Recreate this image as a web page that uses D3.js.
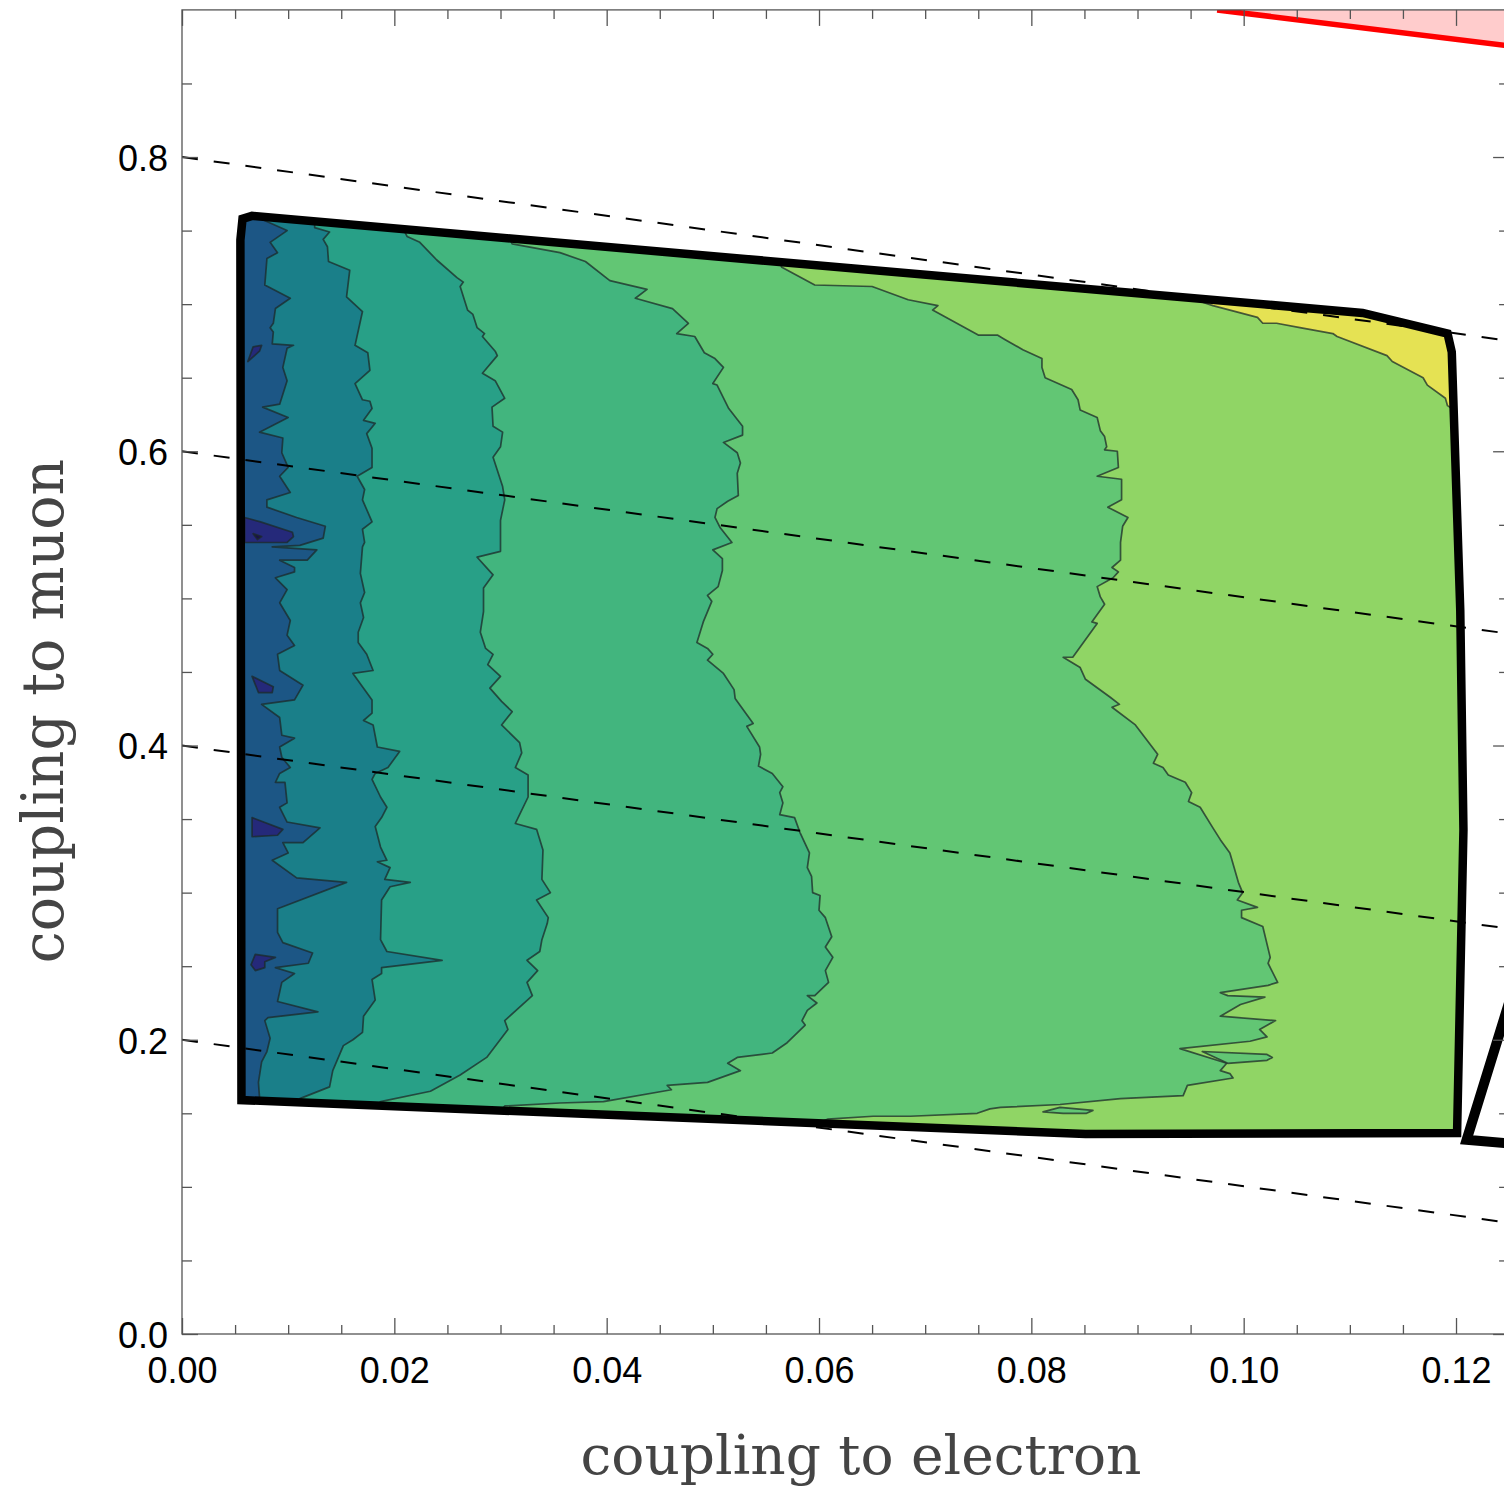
<!DOCTYPE html>
<html><head><meta charset="utf-8">
<script src="https://cdnjs.cloudflare.com/ajax/libs/d3/7.8.5/d3.min.js"></script>
<style>body{margin:0;background:#fff;} svg{display:block;}</style>
</head><body>
<svg id="chart" width="1504" height="1493"></svg>
<script>
// ---------- data ----------
const xTicksMajor = [0, 0.02, 0.04, 0.06, 0.08, 0.10, 0.12];
const xTickLabels = ["0.00", "0.02", "0.04", "0.06", "0.08", "0.10", "0.12"];
const xTicksMinor = [0.005,0.01,0.015,0.025,0.03,0.035,0.045,0.05,0.055,0.065,0.07,0.075,0.085,0.09,0.095,0.105,0.11,0.115];
const yTicksMajor = [0, 0.2, 0.4, 0.6, 0.8];
const yTickLabels = ["0.0", "0.2", "0.4", "0.6", "0.8"];
const yTicksMinor = [0.05,0.1,0.15,0.25,0.3,0.35,0.45,0.5,0.55,0.65,0.7,0.75,0.85];
const xTitle = "coupling to electron";
const yTitle = "coupling to muon";

// allowed region outline (coupling to electron, coupling to muon)
const boundary = [[0.0056,0.159],[0.0055,0.7436],[0.0057,0.758],[0.0066,0.760],[0.1112,0.694],[0.1192,0.680],[0.1196,0.6675],[0.1204,0.492],[0.1207,0.3426],[0.1201,0.1366],[0.0851,0.1359]];

// contour levels, left to right (each line runs from top edge to bottom edge)
const contourA = [[0.0074,0.758],[0.0099,0.750],[0.0083,0.742],[0.0090,0.735],[0.0080,0.731],[0.0078,0.713],[0.0102,0.704],[0.0088,0.697],[0.0086,0.687],[0.0083,0.684],[0.0086,0.681],[0.0085,0.673],[0.0105,0.672],[0.0099,0.670],[0.0095,0.657],[0.0099,0.648],[0.0092,0.632],[0.0076,0.630],[0.0100,0.623],[0.0073,0.613],[0.0095,0.609],[0.0094,0.599],[0.0100,0.589],[0.0092,0.583],[0.0102,0.572],[0.0080,0.567],[0.0080,0.562],[0.0108,0.555],[0.0135,0.549],[0.0133,0.541],[0.0111,0.536],[0.0085,0.535],[0.0127,0.533],[0.0118,0.526],[0.0092,0.526],[0.0106,0.521],[0.0106,0.518],[0.0088,0.514],[0.0099,0.506],[0.0092,0.497],[0.0102,0.485],[0.0099,0.475],[0.0106,0.468],[0.0090,0.462],[0.0092,0.451],[0.0114,0.441],[0.0106,0.431],[0.0075,0.428],[0.0092,0.419],[0.0094,0.407],[0.0106,0.405],[0.0092,0.399],[0.0094,0.392],[0.0102,0.385],[0.0092,0.381],[0.0088,0.375],[0.0097,0.375],[0.0099,0.361],[0.0092,0.358],[0.0099,0.348],[0.0130,0.344],[0.0114,0.334],[0.0095,0.334],[0.0100,0.327],[0.0085,0.322],[0.0108,0.310],[0.0155,0.307],[0.0090,0.289],[0.0090,0.281],[0.0090,0.273],[0.0095,0.266],[0.0123,0.259],[0.0119,0.252],[0.0088,0.249],[0.0106,0.245],[0.0094,0.239],[0.0090,0.226],[0.0128,0.219],[0.0081,0.215],[0.0078,0.213],[0.0083,0.201],[0.0080,0.192],[0.0075,0.185],[0.0072,0.171],[0.0073,0.161],[0.0073,0.150]];
const contourB = [[0.0125,0.752],[0.0139,0.749],[0.0133,0.744],[0.0137,0.739],[0.0138,0.729],[0.0158,0.723],[0.0155,0.705],[0.0170,0.695],[0.0163,0.672],[0.0175,0.667],[0.0177,0.655],[0.0163,0.646],[0.0170,0.635],[0.0177,0.634],[0.0179,0.629],[0.0171,0.621],[0.0182,0.619],[0.0174,0.612],[0.0179,0.602],[0.0179,0.589],[0.0165,0.583],[0.0172,0.574],[0.0170,0.567],[0.0179,0.552],[0.0170,0.547],[0.0172,0.538],[0.0170,0.535],[0.0168,0.517],[0.0172,0.504],[0.0168,0.497],[0.0171,0.487],[0.0166,0.477],[0.0166,0.470],[0.0174,0.462],[0.0180,0.451],[0.0161,0.449],[0.0179,0.431],[0.0179,0.422],[0.0171,0.417],[0.0180,0.414],[0.0184,0.399],[0.0205,0.396],[0.0194,0.385],[0.0182,0.381],[0.0179,0.377],[0.0187,0.365],[0.0193,0.358],[0.0188,0.351],[0.0182,0.345],[0.0187,0.331],[0.0193,0.322],[0.0184,0.321],[0.0196,0.317],[0.0191,0.309],[0.0215,0.307],[0.0196,0.304],[0.0188,0.295],[0.0187,0.268],[0.0193,0.260],[0.0245,0.254],[0.0188,0.249],[0.0188,0.245],[0.0179,0.241],[0.0182,0.227],[0.0171,0.216],[0.0170,0.205],[0.0161,0.200],[0.0152,0.196],[0.0142,0.179],[0.0139,0.168],[0.0111,0.160],[0.0102,0.150]];
const contourC = [[0.0205,0.756],[0.0212,0.746],[0.0224,0.742],[0.0240,0.730],[0.0259,0.718],[0.0265,0.715],[0.0262,0.712],[0.0269,0.696],[0.0274,0.693],[0.0278,0.684],[0.0285,0.680],[0.0283,0.678],[0.0295,0.668],[0.0297,0.665],[0.0283,0.653],[0.0295,0.648],[0.0304,0.636],[0.0292,0.630],[0.0293,0.617],[0.0302,0.613],[0.0300,0.603],[0.0293,0.596],[0.0302,0.576],[0.0304,0.567],[0.0300,0.553],[0.0300,0.532],[0.0278,0.528],[0.0293,0.516],[0.0284,0.507],[0.0284,0.491],[0.0281,0.477],[0.0286,0.466],[0.0293,0.462],[0.0288,0.455],[0.0300,0.447],[0.0290,0.439],[0.0301,0.430],[0.0311,0.423],[0.0301,0.414],[0.0318,0.402],[0.0320,0.395],[0.0314,0.385],[0.0326,0.380],[0.0326,0.365],[0.0314,0.347],[0.0334,0.343],[0.0340,0.329],[0.0339,0.309],[0.0347,0.300],[0.0334,0.295],[0.0345,0.283],[0.0344,0.279],[0.0339,0.268],[0.0337,0.260],[0.0325,0.254],[0.0335,0.247],[0.0325,0.239],[0.0330,0.230],[0.0304,0.213],[0.0307,0.207],[0.0287,0.188],[0.0262,0.176],[0.0234,0.165],[0.0187,0.158],[0.0177,0.149]];
const contourD = [[0.0304,0.752],[0.0311,0.741],[0.0356,0.735],[0.0380,0.729],[0.0403,0.716],[0.0438,0.710],[0.0427,0.704],[0.0462,0.697],[0.0477,0.687],[0.0466,0.680],[0.0483,0.678],[0.0492,0.667],[0.0502,0.663],[0.0510,0.657],[0.0500,0.646],[0.0504,0.645],[0.0515,0.629],[0.0528,0.617],[0.0528,0.611],[0.0510,0.606],[0.0523,0.599],[0.0526,0.592],[0.0523,0.585],[0.0524,0.570],[0.0514,0.566],[0.0504,0.561],[0.0502,0.555],[0.0507,0.548],[0.0518,0.538],[0.0500,0.533],[0.0509,0.527],[0.0509,0.519],[0.0505,0.508],[0.0495,0.502],[0.0499,0.498],[0.0491,0.484],[0.0485,0.470],[0.0495,0.466],[0.0500,0.462],[0.0495,0.458],[0.0510,0.449],[0.0520,0.438],[0.0521,0.432],[0.0538,0.415],[0.0532,0.413],[0.0544,0.399],[0.0545,0.394],[0.0543,0.386],[0.0556,0.381],[0.0566,0.372],[0.0563,0.368],[0.0566,0.361],[0.0563,0.353],[0.0577,0.351],[0.0582,0.341],[0.0591,0.327],[0.0589,0.317],[0.0593,0.311],[0.0594,0.300],[0.0601,0.298],[0.0600,0.288],[0.0606,0.283],[0.0612,0.270],[0.0606,0.263],[0.0613,0.256],[0.0606,0.247],[0.0609,0.239],[0.0596,0.230],[0.0589,0.230],[0.0598,0.225],[0.0589,0.220],[0.0584,0.213],[0.0587,0.210],[0.0570,0.198],[0.0556,0.191],[0.0523,0.188],[0.0514,0.184],[0.0526,0.179],[0.0495,0.171],[0.0457,0.169],[0.0461,0.166],[0.0397,0.158],[0.0356,0.157],[0.0304,0.155],[0.0295,0.147]];
const contourE = [[0.0560,0.733],[0.0565,0.725],[0.0596,0.713],[0.0650,0.712],[0.0684,0.703],[0.0712,0.699],[0.0707,0.696],[0.0750,0.679],[0.0768,0.679],[0.0775,0.676],[0.0792,0.669],[0.0810,0.663],[0.0810,0.657],[0.0813,0.650],[0.0838,0.642],[0.0844,0.635],[0.0846,0.628],[0.0862,0.623],[0.0865,0.614],[0.0869,0.610],[0.0871,0.603],[0.0869,0.601],[0.0881,0.600],[0.0882,0.589],[0.0862,0.583],[0.0885,0.581],[0.0885,0.567],[0.0872,0.562],[0.0891,0.555],[0.0886,0.549],[0.0884,0.538],[0.0884,0.526],[0.0876,0.521],[0.0882,0.518],[0.0877,0.514],[0.0862,0.508],[0.0865,0.501],[0.0869,0.496],[0.0857,0.484],[0.0862,0.483],[0.0839,0.460],[0.0830,0.460],[0.0846,0.453],[0.0851,0.445],[0.0874,0.433],[0.0883,0.428],[0.0876,0.426],[0.0898,0.414],[0.0919,0.394],[0.0915,0.388],[0.0924,0.385],[0.0929,0.380],[0.0945,0.375],[0.0951,0.368],[0.0948,0.362],[0.0959,0.358],[0.0971,0.344],[0.0978,0.336],[0.0987,0.327],[0.0989,0.322],[0.0995,0.307],[0.0999,0.300],[0.0994,0.295],[0.1013,0.290],[0.0998,0.288],[0.0998,0.283],[0.1018,0.277],[0.1025,0.256],[0.1023,0.252],[0.1032,0.239],[0.1023,0.237],[0.0978,0.232],[0.0985,0.230],[0.1020,0.229],[0.0997,0.224],[0.0978,0.216],[0.1030,0.213],[0.1015,0.207],[0.1022,0.202],[0.1006,0.199],[0.0940,0.194],[0.0984,0.184],[0.0978,0.179],[0.0987,0.177],[0.0990,0.174],[0.0947,0.169],[0.0943,0.162],[0.0884,0.160],[0.0827,0.156],[0.0771,0.154],[0.0761,0.153],[0.0749,0.150],[0.0686,0.148],[0.0651,0.148],[0.0608,0.146],[0.0582,0.139]];
// highest level (top-right corner), runs from top edge to right edge
const contourF = [[0.0926,0.710],[0.0971,0.699],[0.1013,0.691],[0.1018,0.687],[0.1031,0.687],[0.1053,0.684],[0.1084,0.680],[0.1088,0.678],[0.1135,0.665],[0.1140,0.661],[0.1169,0.650],[0.1173,0.645],[0.1190,0.636],[0.1192,0.631],[0.1213,0.621]];

// small closed pockets
const lowIslands = [
  [[0.0067,0.671],[0.0075,0.672],[0.0073,0.668],[0.0062,0.661]],
  [[0.0059,0.555],[0.0074,0.552],[0.0104,0.545],[0.0105,0.542],[0.0099,0.538],[0.0059,0.538]],
  [[0.0066,0.447],[0.0086,0.440],[0.0085,0.436],[0.0072,0.436]],
  [[0.0066,0.351],[0.0095,0.343],[0.0090,0.339],[0.0066,0.338]],
  [[0.0069,0.258],[0.0088,0.256],[0.0078,0.253],[0.0078,0.249],[0.0069,0.247],[0.0065,0.251]]
];
const lowestIslands = [[[0.0067,0.544],[0.0075,0.542],[0.0071,0.540]]];
const midIslands = [
  [[0.0961,0.192],[0.1022,0.190],[0.1027,0.188],[0.1022,0.186],[0.0985,0.184]],
  [[0.0811,0.151],[0.0827,0.154],[0.0858,0.152],[0.0852,0.150],[0.0830,0.150]]
];

// reference lines
const dashLines = [
  [[0, 0.8], [0.1245, 0.6756]],
  [[0, 0.6], [0.1245, 0.4765]],
  [[0, 0.4], [0.1245, 0.276]],
  [[0, 0.2], [0.1245, 0.0761]]
];
const redLine = [[0.0975, 0.9], [0.125, 0.8756]];
const triangle = [[0.1210, 0.132], [0.1279, 0.293], [0.1336, 0.124]];

// band colours (low -> high)
const bandColors = ["#1a0e4f", "#25297a", "#1c5685", "#1a7f89", "#28a087", "#42b57e", "#62c674", "#90d565", "#e5e253"];

// ---------- drawing ----------
const svg = d3.select("#chart");
const x = d3.scaleLinear().domain([0, 0.125]).range([182, 1509.1]);
const y = d3.scaleLinear().domain([0, 0.9]).range([1334, 9.9]);
const line = d3.line().x(d => x(d[0])).y(d => y(d[1]));
const closed = d3.line().x(d => x(d[0])).y(d => y(d[1])).curve(d3.curveLinearClosed);
const yMax = 0.9;

const defs = svg.append("defs");
defs.append("clipPath").attr("id", "plotClip").append("rect")
  .attr("x", x(0)).attr("y", y(yMax)).attr("width", x(0.125) - x(0)).attr("height", y(0) - y(yMax));
defs.append("clipPath").attr("id", "regionClip").append("path").attr("d", closed(boundary));

const plot = svg.append("g").attr("clip-path", "url(#plotClip)");

// excluded red region at top right
plot.append("path").attr("d", closed([redLine[0], redLine[1], [0.125, yMax]])).attr("fill", "#ffcccc");
plot.append("path").attr("d", line(redLine)).attr("fill", "none").attr("stroke", "#ff0000").attr("stroke-width", 5.5);

// contour bands
const reg = plot.append("g").attr("clip-path", "url(#regionClip)");
const cStroke = "rgba(28,42,40,0.75)";
reg.append("path").attr("d", closed(boundary)).attr("fill", bandColors[7]);
function leftBand(c) {
  const a = c[0], b = c[c.length - 1];
  return [[a[0], yMax], ...c, [b[0], 0], [0, 0], [0, yMax]];
}
function poly(pts, color) {
  reg.append("path").attr("d", closed(pts)).attr("fill", color)
    .attr("stroke", cStroke).attr("stroke-width", 1.7).attr("stroke-linejoin", "round");
}
poly(leftBand(contourE), bandColors[6]);
midIslands.forEach(p => poly(p, bandColors[6]));
poly(leftBand(contourD), bandColors[5]);
poly(leftBand(contourC), bandColors[4]);
poly(leftBand(contourB), bandColors[3]);
poly(leftBand(contourA), bandColors[2]);
lowIslands.forEach(p => poly(p, bandColors[1]));
lowestIslands.forEach(p => poly(p, bandColors[0]));
{
  const a = contourF[0], b = contourF[contourF.length - 1];
  poly([[a[0], yMax], ...contourF, [0.125, b[1]], [0.125, yMax]], bandColors[8]);
}

// region outline
plot.append("path").attr("d", closed(boundary)).attr("fill", "none")
  .attr("stroke", "#000").attr("stroke-width", 8.5).attr("stroke-linejoin", "miter");
// triangle outline at right
plot.append("path").attr("d", closed(triangle)).attr("fill", "#fff")
  .attr("stroke", "#000").attr("stroke-width", 10).attr("stroke-linejoin", "miter");

// dashed reference lines
dashLines.forEach(l => {
  plot.append("path").attr("d", line(l)).attr("fill", "none")
    .attr("stroke", "#000").attr("stroke-width", 2).attr("stroke-dasharray", "16,16");
});

// ---------- axes / frame ----------
const tickColor = "#555";
function styleAxis(g) {
  g.select(".domain").remove();
  g.selectAll(".tick line").attr("stroke", tickColor).attr("stroke-width", 1.3);
  g.selectAll("text").attr("fill", "#000");
  g.attr("font-family", "'Liberation Sans', Arial, Helvetica, sans-serif").attr("font-size", 36);
}
const fmtX = d => xTickLabels[xTicksMajor.indexOf(d)];
const fmtY = d => yTickLabels[yTicksMajor.indexOf(d)];

svg.append("g").attr("transform", `translate(0,${y(0)})`)
  .call(d3.axisBottom(x).tickValues(xTicksMajor).tickFormat(fmtX).tickSize(-16).tickPadding(23)).call(styleAxis);
svg.append("g").attr("transform", `translate(0,${y(0)})`)
  .call(d3.axisBottom(x).tickValues(xTicksMinor).tickFormat("").tickSize(-9)).call(styleAxis);
svg.append("g").attr("transform", `translate(0,${y(yMax)})`)
  .call(d3.axisTop(x).tickValues(xTicksMajor).tickFormat("").tickSize(-16)).call(styleAxis);
svg.append("g").attr("transform", `translate(0,${y(yMax)})`)
  .call(d3.axisTop(x).tickValues(xTicksMinor).tickFormat("").tickSize(-9)).call(styleAxis);

const gl = svg.append("g").attr("transform", `translate(${x(0)},0)`)
  .call(d3.axisLeft(y).tickValues(yTicksMajor).tickFormat(fmtY).tickSize(-16).tickPadding(14)).call(styleAxis);
gl.selectAll("text").attr("dy", "0.37em");
svg.append("g").attr("transform", `translate(${x(0)},0)`)
  .call(d3.axisLeft(y).tickValues(yTicksMinor).tickFormat("").tickSize(-10)).call(styleAxis);
svg.append("g").attr("transform", `translate(${x(0.125)},0)`)
  .call(d3.axisRight(y).tickValues(yTicksMajor).tickFormat("").tickSize(-16)).call(styleAxis);
svg.append("g").attr("transform", `translate(${x(0.125)},0)`)
  .call(d3.axisRight(y).tickValues(yTicksMinor).tickFormat("").tickSize(-10)).call(styleAxis);

svg.append("rect").attr("x", x(0)).attr("y", y(yMax)).attr("width", x(0.125) - x(0)).attr("height", y(0) - y(yMax))
  .attr("fill", "none").attr("stroke", tickColor).attr("stroke-width", 1.3);

// titles
svg.append("text").attr("x", 861).attr("y", 1474).attr("text-anchor", "middle")
  .attr("font-family", "'DejaVu Serif', serif").attr("font-size", 55).attr("fill", "#444").text(xTitle);
svg.append("text").attr("transform", "translate(63,711) rotate(-90)").attr("text-anchor", "middle")
  .attr("font-family", "'DejaVu Serif', serif").attr("font-size", 57).attr("fill", "#444").text(yTitle);
</script>
</body></html>
